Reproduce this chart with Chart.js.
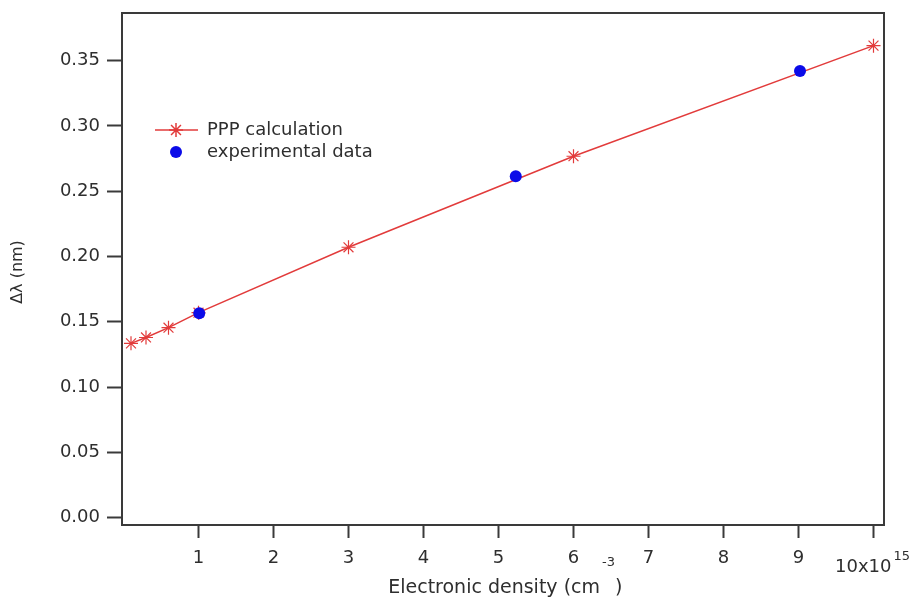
<!DOCTYPE html>
<html>
<head>
<meta charset="utf-8">
<script src="https://cdn.jsdelivr.net/npm/chart.js@4"></script>
<style>
  html, body { margin: 0; padding: 0; background: #ffffff; }
  #wrap { width: 919px; height: 600px; }
</style>
</head>
<body>
<div id="wrap"><canvas id="densityChart" width="919" height="600"></canvas></div>
<script>
// PPP calculation (line + asterisks)
const pppDensity = [0.1, 0.3, 0.6, 1, 3, 6, 10];
const pppShift = [0.1335, 0.138, 0.1455, 0.157, 0.2071, 0.2768, 0.3615];

// experimental points
const expDensity = [1.01, 5.23, 9.02];
const expShift = [0.1565, 0.2615, 0.342];

// axis ticks
const xTickValues = [1, 2, 3, 4, 5, 6, 7, 8, 9, 10];
const xTickLabels = ["1", "2", "3", "4", "5", "6", "7", "8", "9", "10x10"];
const xExponent = "15";
const yTickValues = [0, 0.05, 0.1, 0.15, 0.2, 0.25, 0.3, 0.35];

const legendItems = ["PPP calculation", "experimental data"];
const xTitle = ["Electronic density (cm", "-3", ")"];
const yTitle = "\u0394\u03BB (nm)";

const RED = "#e23b3b";
const BLUE = "#0b0be8";
const AXIS = "#3a3a3a";
const TEXT = "#2e2e2e";
const FONT = "'DejaVu Sans', sans-serif";

const toPoints = (xs, ys) => xs.map((x, i) => ({ x, y: ys[i] }));

// frame on all four sides, legend inside the plot, axis titles, last x label
const decorPlugin = {
  id: "decor",
  afterDraw(chart) {
    const { ctx, chartArea } = chart;
    const xs = chart.scales.x;
    ctx.save();
    ctx.strokeStyle = AXIS;
    ctx.lineWidth = 2;
    ctx.strokeRect(chartArea.left, chartArea.top, chartArea.right - chartArea.left, chartArea.bottom - chartArea.top);

    // legend
    const lx = 176, ly1 = 130, ly2 = 152;
    ctx.strokeStyle = RED;
    ctx.lineWidth = 1.5;
    ctx.beginPath();
    ctx.moveTo(155, ly1);
    ctx.lineTo(198, ly1);
    ctx.stroke();
    Chart.helpers.drawPoint(ctx, { pointStyle: "star", radius: 7, borderWidth: 1.2 }, lx, ly1);

    ctx.fillStyle = BLUE;
    ctx.beginPath();
    ctx.arc(lx, ly2, 6, 0, Math.PI * 2);
    ctx.fill();

    ctx.fillStyle = TEXT;
    ctx.font = "18px " + FONT;
    ctx.textBaseline = "middle";
    ctx.textAlign = "left";
    ctx.fillText(legendItems[0], 207, ly1);
    ctx.fillText(legendItems[1], 207, ly2);

    // last x tick label with exponent: base right-aligned just left of the tick centre
    const px = xs.getPixelForValue(xTickValues[xTickValues.length - 1]);
    ctx.textBaseline = "alphabetic";
    ctx.textAlign = "right";
    ctx.font = "18px " + FONT;
    ctx.fillText(xTickLabels[xTickLabels.length - 1], px + 18, 572);
    ctx.textAlign = "left";
    ctx.font = "13px " + FONT;
    ctx.fillText(xExponent, px + 20, 560);

    // x title, superscript exponent
    const anchor = 600;
    ctx.textAlign = "right";
    ctx.font = "19px " + FONT;
    ctx.fillText(xTitle[0], anchor, 593);
    ctx.textAlign = "left";
    ctx.font = "13px " + FONT;
    ctx.fillText(xTitle[1], anchor + 2, 566);
    ctx.font = "19px " + FONT;
    ctx.fillText(xTitle[2], anchor + 15, 593);

    // y title
    ctx.translate(18, 272);
    ctx.rotate(-Math.PI / 2);
    ctx.font = "16px " + FONT;
    ctx.textAlign = "center";
    ctx.textBaseline = "middle";
    ctx.fillText(yTitle, 0, 0);
    ctx.restore();
  }
};

new Chart(document.getElementById("densityChart"), {
  type: "scatter",
  data: {
    datasets: [
      {
        label: legendItems[0],
        data: toPoints(pppDensity, pppShift),
        showLine: true,
        borderColor: RED,
        borderWidth: 1.5,
        pointStyle: "star",
        pointRadius: 7,
        pointBorderColor: RED,
        pointBorderWidth: 1.2,
        pointBackgroundColor: RED,
        order: 2
      },
      {
        label: legendItems[1],
        data: toPoints(expDensity, expShift),
        showLine: false,
        pointStyle: "circle",
        pointRadius: 6,
        pointBackgroundColor: BLUE,
        pointBorderColor: BLUE,
        pointBorderWidth: 0,
        order: 1
      }
    ]
  },
  options: {
    responsive: false,
    animation: false,
    layout: { padding: { left: 0, right: 35, top: 13, bottom: 0 } },
    plugins: {
      legend: { display: false },
      tooltip: { enabled: false }
    },
    scales: {
      x: {
        type: "linear",
        min: -0.02,
        max: 10.14,
        afterBuildTicks: (scale) => {
          scale.ticks = xTickValues.map((v) => ({ value: v }));
        },
        afterFit: (scale) => {
          scale.height = 75;
          scale.paddingLeft = 0;
          scale.paddingRight = 0;
        },
        border: { display: false },
        grid: {
          drawOnChartArea: false,
          drawTicks: true,
          tickLength: 13,
          tickWidth: 2,
          tickColor: AXIS
        },
        ticks: {
          color: TEXT,
          font: { family: FONT, size: 18 },
          padding: 10,
          maxRotation: 0,
          autoSkip: false,
          callback: (value) => {
            const i = xTickValues.indexOf(value);
            // the last label carries an exponent, drawn by the plugin
            return i >= 0 && i < xTickValues.length - 1 ? xTickLabels[i] : "";
          }
        }
      },
      y: {
        type: "linear",
        min: -0.0056,
        max: 0.3865,
        afterBuildTicks: (scale) => {
          scale.ticks = yTickValues.map((v) => ({ value: v }));
        },
        afterFit: (scale) => {
          scale.width = 122;
          scale.paddingTop = 0;
          scale.paddingBottom = 0;
        },
        border: { display: false },
        grid: {
          drawOnChartArea: false,
          drawTicks: true,
          tickLength: 15,
          tickWidth: 2,
          tickColor: AXIS
        },
        ticks: {
          color: TEXT,
          font: { family: FONT, size: 18 },
          padding: 7,
          callback: (value) => value.toFixed(2)
        }
      }
    }
  },
  plugins: [decorPlugin]
});
</script>
</body>
</html>
